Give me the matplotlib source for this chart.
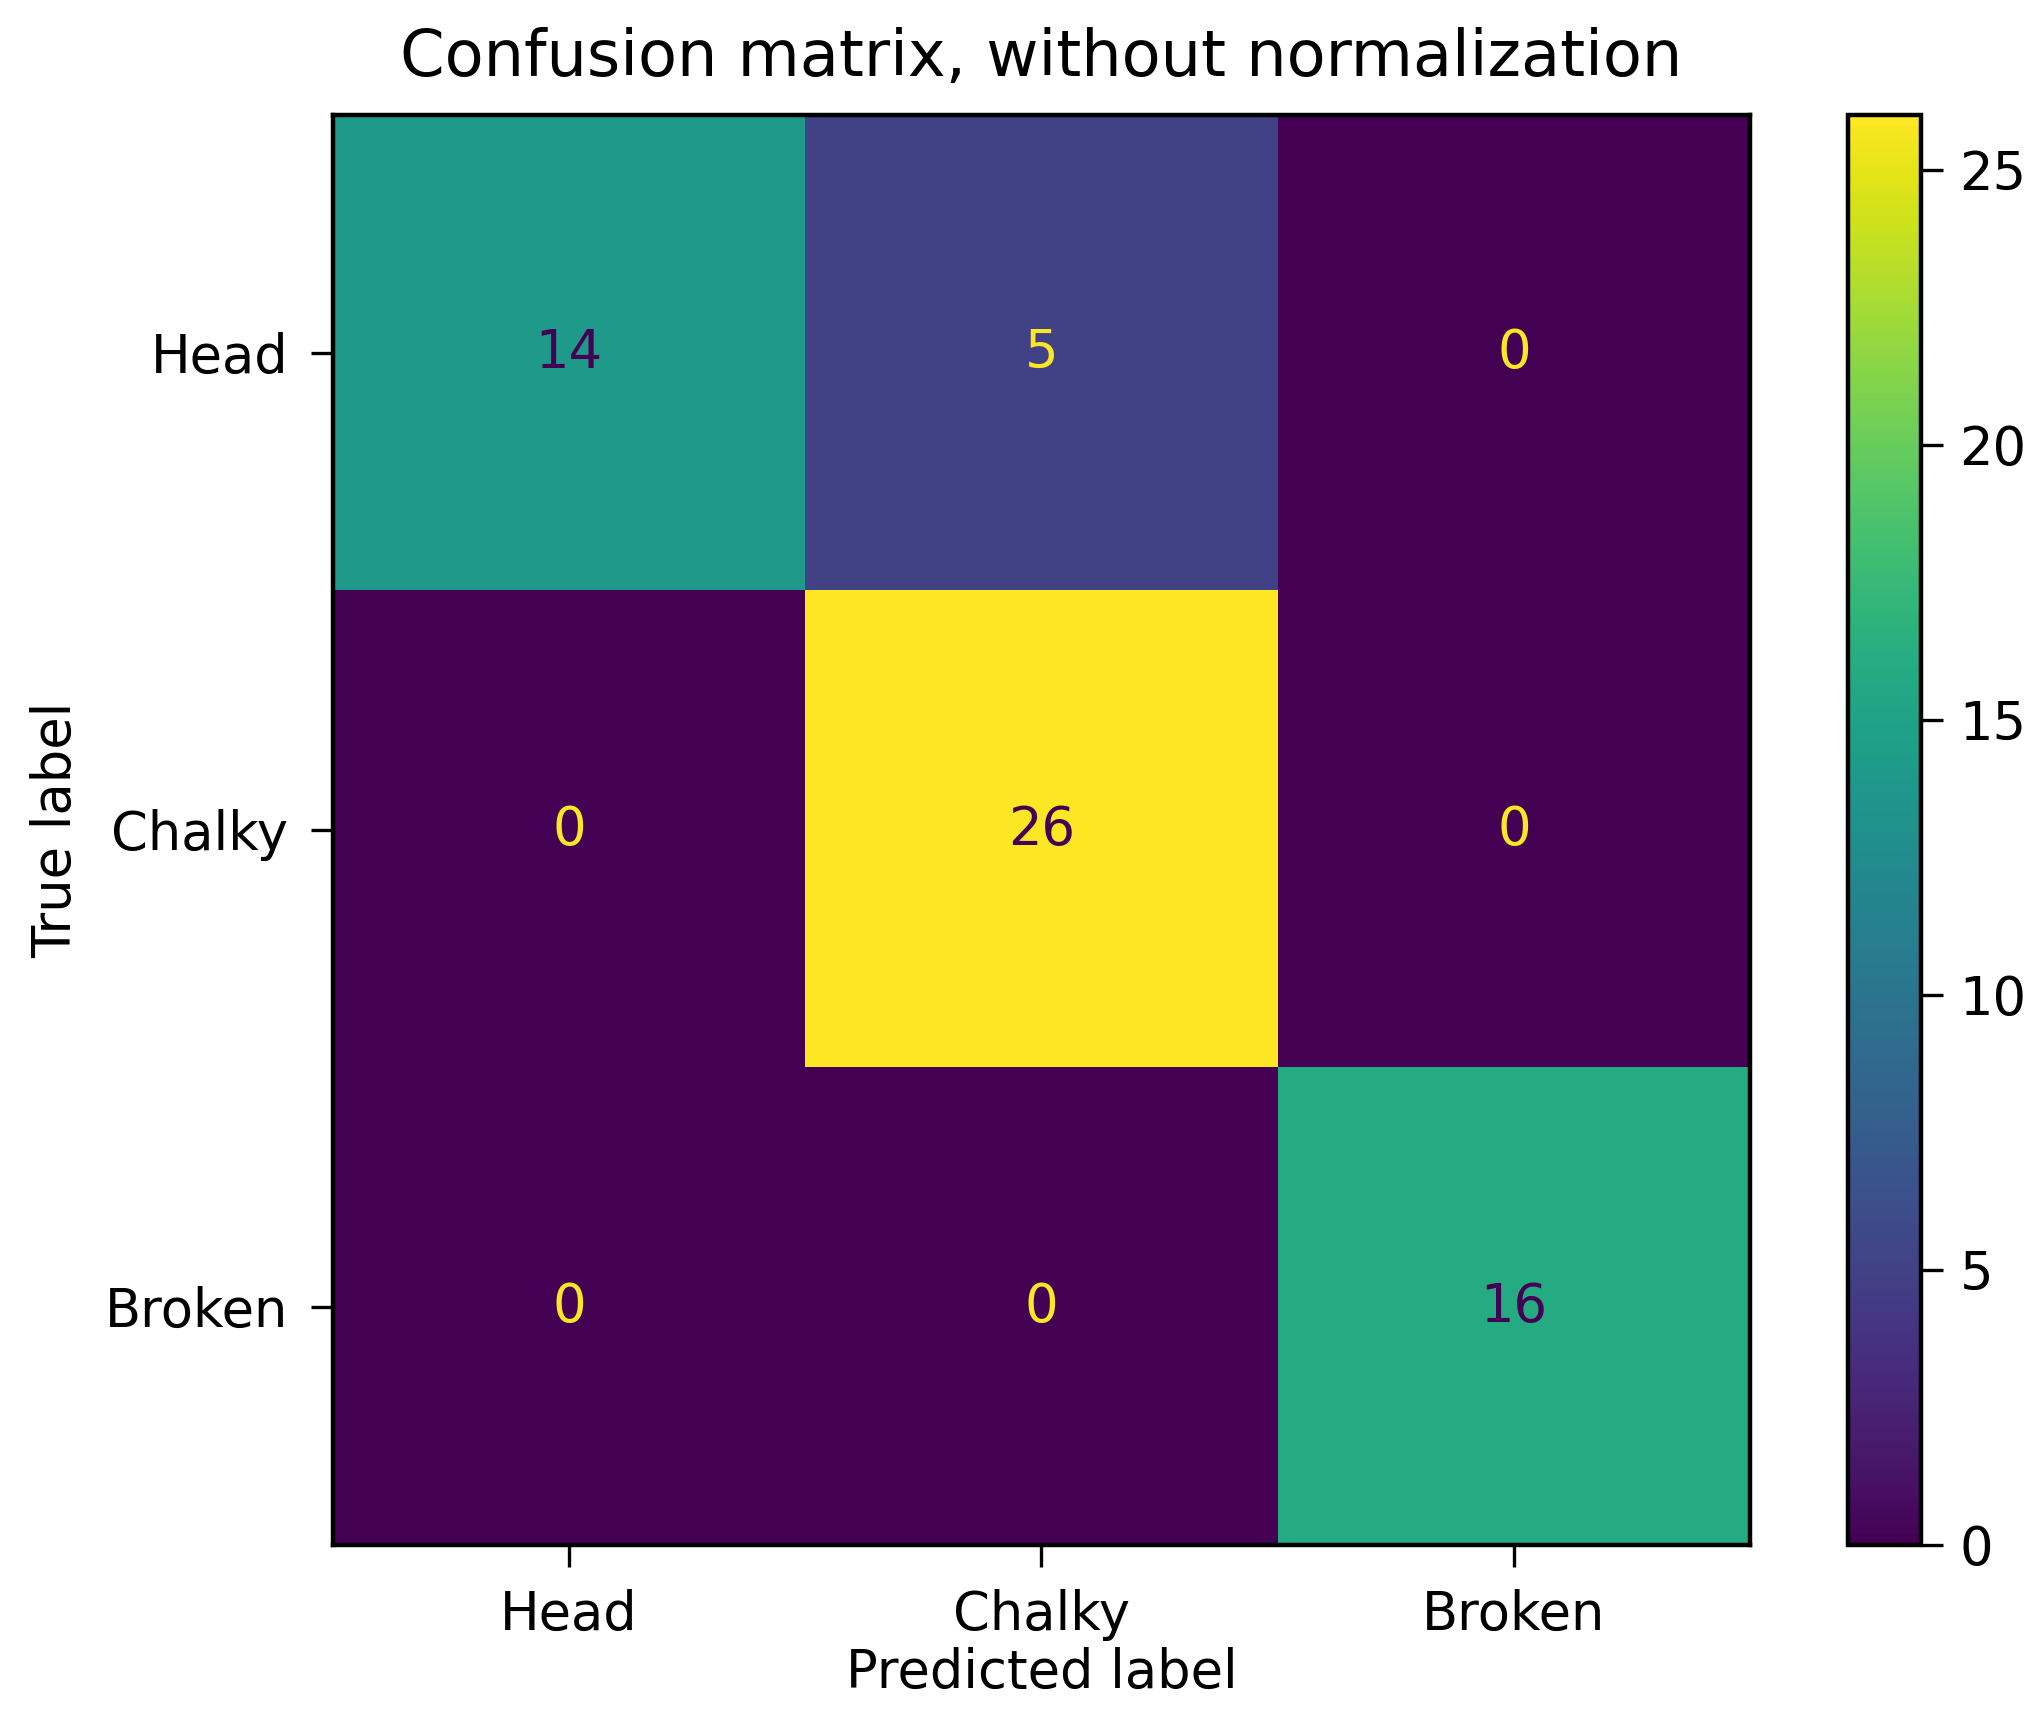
import matplotlib
matplotlib.use('Agg')
import matplotlib.pyplot as plt
import numpy as np

# class names and counts (rows = true, cols = predicted)
labels = ['Head', 'Chalky', 'Broken']
counts = [[14, 5, 0],
          [0, 26, 0],
          [0, 0, 16]]
cbar_ticks = [0, 5, 10, 15, 20, 25]

cm = np.array(counts)
cmap = plt.get_cmap('viridis')

fig = plt.figure(figsize=(10.2, 8.545), dpi=200)
ax = fig.add_axes([0.163, 0.096, 0.695, 0.837])
cax = fig.add_axes([0.906, 0.096, 0.0355, 0.837])

im = ax.imshow(cm, cmap=cmap, interpolation='nearest', aspect='auto')

thresh = (cm.max() + cm.min()) / 2.0
for i in range(cm.shape[0]):
    for j in range(cm.shape[1]):
        color = cmap(1.0) if cm[i, j] < thresh else cmap(0.0)
        ax.text(j, i, str(cm[i, j]), ha='center', va='center',
                color=color, fontsize=19)

ax.set_xticks(range(len(labels)))
ax.set_xticklabels(labels)
ax.set_yticks(range(len(labels)))
ax.set_yticklabels(labels)
ax.tick_params(labelsize=19, length=8, width=1.2, pad=8)
ax.set_xlabel('Predicted label', fontsize=19, labelpad=2)
ax.set_ylabel('True label', fontsize=19, labelpad=8)
ax.set_title('Confusion matrix, without normalization', fontsize=23, pad=14)
for s in ax.spines.values():
    s.set_linewidth(1.6)

cb = fig.colorbar(im, cax=cax)
cb.set_ticks(cbar_ticks)
cb.ax.tick_params(labelsize=19, length=8, width=1.2, pad=6)
cb.outline.set_linewidth(1.6)

fig.savefig('out.png', dpi=200)
